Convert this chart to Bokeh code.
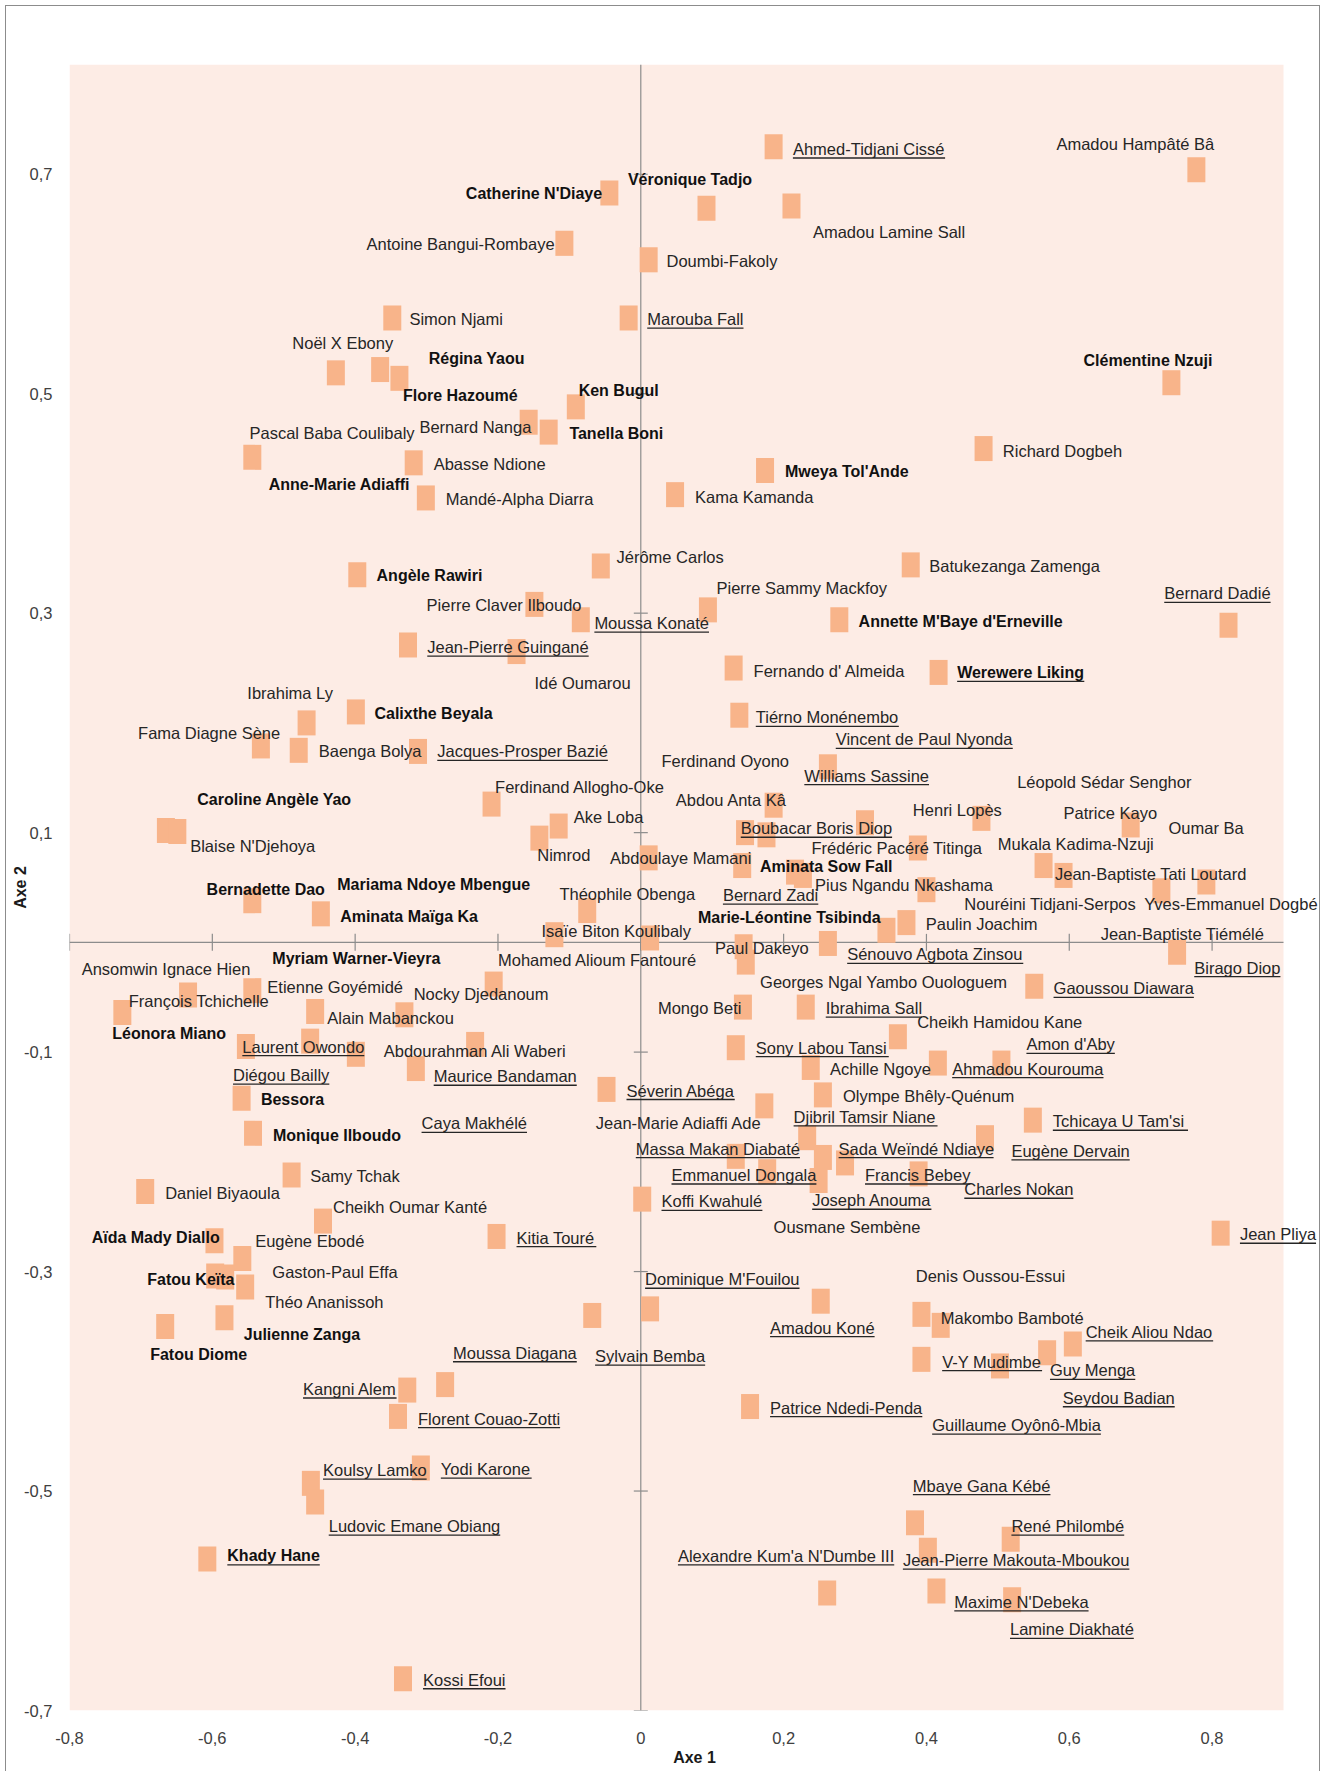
import math
import unicodedata
from bokeh.plotting import figure
from bokeh.models import (ColumnDataSource, LabelSet, FixedTicker, CustomJSTickFormatter,
                          BoxAnnotation, Title)
from bokeh.core.properties import value
from bokeh.embed import file_html
from bokeh.resources import INLINE

# ---------------- data ----------------
point_axe1 = [0.186, 0.778, -0.044, 0.092, 0.211, -0.107, 0.011, -0.348, -0.017, -0.427,
              -0.365, -0.338, 0.743, -0.091, -0.157, -0.129, -0.544, -0.318, 0.480, 0.174,
              -0.301, 0.048, -0.397, -0.056, 0.378, -0.149, -0.084, 0.094, 0.278, 0.823,
              -0.326, -0.174, 0.130, 0.417, -0.399, 0.138, -0.468, -0.532, -0.479, -0.312,
              0.262, -0.209, 0.186, -0.665, -0.649, -0.115, -0.142, 0.314, 0.477, 0.686,
              0.146, 0.176, 0.011, 0.388, 0.142, 0.216, 0.227, 0.564, 0.592, 0.792,
              0.729, 0.400, -0.544, -0.448, -0.075, -0.121, 0.013, 0.344, 0.372, 0.262,
              0.144, 0.147, 0.751, 0.551, -0.206, -0.634, -0.544, -0.726, -0.456, -0.331,
              0.143, 0.231, 0.360, -0.553, -0.463, -0.399, -0.232, -0.315, 0.133, 0.238,
              0.416, 0.505, -0.559, -0.048, 0.255, -0.543, 0.173, 0.233, 0.549, 0.482,
              0.133, 0.177, 0.255, 0.286, 0.249, 0.389, -0.489, -0.694, 0.002, -0.445,
              -0.597, -0.202, 0.812, -0.558, -0.596, -0.582, -0.554, 0.252, 0.013, -0.068,
              -0.583, -0.666, 0.393, 0.420, 0.605, 0.569, 0.393, 0.503, -0.274, -0.327,
              -0.340, 0.153, -0.308, -0.462, -0.456, 0.384, 0.518, 0.402, -0.607, 0.261,
              0.414, 0.520, -0.333]
point_axe2 = [0.725, 0.704, 0.683, 0.669, 0.671, 0.637, 0.622, 0.569, 0.569, 0.519,
              0.522, 0.514, 0.510, 0.488, 0.474, 0.465, 0.442, 0.437, 0.450, 0.430,
              0.405, 0.408, 0.335, 0.343, 0.344, 0.308, 0.294, 0.303, 0.294, 0.289,
              0.271, 0.265, 0.250, 0.246, 0.210, 0.207, 0.200, 0.179, 0.175, 0.174,
              0.160, 0.126, 0.125, 0.102, 0.101, 0.106, 0.095, 0.109, 0.113, 0.107,
              0.100, 0.098, 0.077, 0.086, 0.070, 0.064, 0.061, 0.070, 0.061, 0.055,
              0.047, 0.048, 0.038, 0.026, 0.029, 0.007, 0.004, 0.011, 0.018, -0.001,
              -0.004, -0.018, -0.009, -0.040, -0.038, -0.048, -0.044, -0.064, -0.063, -0.066,
              -0.059, -0.059, -0.086, -0.095, -0.090, -0.102, -0.093, -0.115, -0.096, -0.114,
              -0.110, -0.110, -0.142, -0.134, -0.139, -0.174, -0.149, -0.178, -0.162, -0.178,
              -0.195, -0.209, -0.196, -0.201, -0.217, -0.211, -0.212, -0.227, -0.234, -0.254,
              -0.272, -0.268, -0.265, -0.288, -0.304, -0.305, -0.314, -0.327, -0.334, -0.340,
              -0.342, -0.350, -0.339, -0.349, -0.366, -0.374, -0.380, -0.386, -0.403, -0.408,
              -0.432, -0.423, -0.479, -0.493, -0.510, -0.529, -0.544, -0.554, -0.562, -0.593,
              -0.591, -0.599, -0.671]

authors = [
    "Amadou Hampâté Bâ", "Ahmed-Tidjani Cissé", "Véronique Tadjo", "Catherine N'Diaye",
    "Amadou Lamine Sall", "Antoine Bangui-Rombaye", "Doumbi-Fakoly", "Simon Njami",
    "Marouba Fall", "Noël X Ebony", "Régina Yaou", "Clémentine Nzuji", "Ken Bugul",
    "Flore  Hazoumé", "Bernard Nanga", "Pascal Baba Coulibaly", "Tanella Boni",
    "Richard Dogbeh", "Abasse Ndione", "Mweya Tol'Ande", "Anne-Marie Adiaffi",
    "Kama Kamanda", "Mandé-Alpha Diarra", "Jérôme Carlos", "Batukezanga Zamenga",
    "Angèle Rawiri", "Pierre Sammy Mackfoy", "Bernard Dadié", "Pierre Claver Ilboudo",
    "Annette M'Baye d'Erneville", "Moussa Konaté", "Jean-Pierre Guingané",
    "Fernando d' Almeida", "Werewere Liking", "Idé Oumarou", "Ibrahima Ly",
    "Calixthe Beyala", "Tiérno Monénembo", "Fama Diagne Sène", "Vincent de Paul Nyonda",
    "Baenga Bolya", "Jacques-Prosper Bazié", "Ferdinand Oyono", "Williams Sassine",
    "Léopold Sédar Senghor", "Ferdinand Allogho-Oke", "Abdou Anta Kâ",
    "Caroline Angèle  Yao", "Henri Lopès", "Patrice Kayo", "Ake Loba",
    "Boubacar Boris Diop", "Oumar Ba", "Mukala Kadima-Nzuji", "Blaise N'Djehoya",
    "Frédéric Pacéré Titinga", "Nimrod", "Abdoulaye Mamani", "Aminata Sow Fall",
    "Jean-Baptiste Tati Loutard", "Mariama Ndoye Mbengue", "Pius Ngandu Nkashama",
    "Bernadette Dao", "Théophile Obenga", "Bernard Zadi", "Nouréini Tidjani-Serpos",
    "Yves-Emmanuel Dogbé", "Aminata Maïga Ka", "Marie-Léontine Tsibinda",
    "Paulin Joachim", "Isaïe Biton Koulibaly", "Jean-Baptiste Tiémélé", "Paul Dakeyo",
    "Sénouvo Agbota Zinsou", "Myriam Warner-Vieyra", "Mohamed Alioum Fantouré",
    "Birago Diop", "Ansomwin Ignace Hien", "Georges Ngal Yambo Ouologuem",
    "Etienne Goyémidé", "Gaoussou Diawara", "Nocky Djedanoum", "François Tchichelle",
    "Mongo Beti", "Ibrahima Sall", "Alain Mabanckou", "Cheikh Hamidou Kane",
    "Léonora Miano", "Amon d'Aby", "Laurent Owondo", "Sony Labou Tansi",
    "Abdourahman Ali Waberi", "Achille Ngoye", "Ahmadou Kourouma", "Diégou Bailly",
    "Maurice Bandaman", "Séverin Abéga", "Olympe Bhêly-Quénum", "Bessora",
    "Djibril Tamsir Niane", "Tchicaya U Tam'si", "Caya Makhélé", "Jean-Marie Adiaffi Ade",
    "Monique Ilboudo", "Massa Makan Diabaté", "Sada Weïndé Ndiaye", "Eugène Dervain",
    "Emmanuel Dongala", "Francis Bebey", "Samy Tchak", "Charles Nokan", "Daniel Biyaoula",
    "Joseph Anouma", "Koffi Kwahulé", "Cheikh Oumar Kanté", "Ousmane Sembène",
    "Jean Pliya", "Aïda Mady Diallo", "Kitia Touré", "Eugène Ebodé", "Gaston-Paul Effa",
    "Denis Oussou-Essui", "Fatou Keïta", "Dominique M'Fouilou", "Théo Ananissoh",
    "Makombo Bamboté", "Amadou Koné", "Cheik Aliou Ndao", "Julienne Zanga",
    "Moussa Diagana", "Fatou Diome", "Sylvain Bemba", "V-Y Mudimbe", "Guy Menga",
    "Kangni Alem", "Seydou Badian", "Patrice Ndedi-Penda", "Florent Couao-Zotti",
    "Guillaume Oyônô-Mbia", "Yodi Karone", "Koulsy Lamko", "Mbaye Gana Kébé",
    "René Philombé", "Ludovic Emane Obiang", "Khady Hane", "Alexandre Kum'a N'Dumbe III",
    "Jean-Pierre Makouta-Mboukou", "Maxime N'Debeka", "Lamine Diakhaté", "Kossi Efoui"]

label_x = [0.582, 0.213, -0.018, -0.245, 0.241, -0.384, 0.036, -0.324, 0.009, -0.488,
           -0.297, 0.620, -0.087, -0.333, -0.310, -0.548, -0.100, 0.507, -0.290, 0.202,
           -0.521, 0.076, -0.273, -0.034, 0.404, -0.370, 0.106, 0.733, -0.300, 0.305,
           -0.065, -0.299, 0.158, 0.443, -0.149, -0.551, -0.373, 0.161, -0.704, 0.273,
           -0.451, -0.285, 0.029, 0.229, 0.527, -0.204, 0.049, -0.621, 0.381, 0.592,
           -0.094, 0.140, 0.739, 0.500, -0.631, 0.239, -0.145, -0.043, 0.167, 0.580,
           -0.425, 0.244, -0.608, -0.114, 0.115, 0.453, 0.705, -0.421, 0.080, 0.399,
           -0.139, 0.644, 0.104, 0.289, -0.516, -0.200, 0.775, -0.783, 0.167, -0.523,
           0.578, -0.318, -0.717, 0.024, 0.259, -0.439, 0.387, -0.740, 0.540, -0.558,
           0.161, -0.360, 0.265, 0.436, -0.571, -0.290, -0.020, 0.283, -0.532, 0.214,
           0.577, -0.307, -0.063, -0.515, -0.007, 0.277, 0.519, 0.043, 0.314, -0.463,
           0.453, -0.666, 0.240, 0.029, -0.431, 0.186, 0.839, -0.769, -0.174, -0.540,
           -0.516, 0.385, -0.691, 0.006, -0.526, 0.420, 0.181, 0.623, -0.556, -0.263,
           -0.687, -0.064, 0.422, 0.573, -0.473, 0.591, 0.181, -0.312, 0.408, -0.280,
           -0.445, 0.381, 0.519, -0.437, -0.579, 0.052, 0.367, 0.439, 0.517, -0.305]
label_y = [0.728, 0.723, 0.695, 0.682, 0.647, 0.636, 0.621, 0.568, 0.568, 0.546,
           0.532, 0.530, 0.503, 0.498, 0.470, 0.464, 0.464, 0.448, 0.436, 0.429,
           0.417, 0.406, 0.404, 0.351, 0.343, 0.334, 0.323, 0.318, 0.307, 0.292,
           0.291, 0.269, 0.247, 0.246, 0.236, 0.227, 0.209, 0.205, 0.191, 0.185,
           0.174, 0.174, 0.165, 0.152, 0.146, 0.142, 0.130, 0.130, 0.121, 0.118,
           0.114, 0.104, 0.104, 0.090, 0.088, 0.086, 0.080, 0.077, 0.069, 0.062,
           0.053, 0.052, 0.048, 0.044, 0.043, 0.035, 0.035, 0.024, 0.023, 0.017,
           0.010, 0.008, -0.005, -0.011, -0.015, -0.016, -0.023, -0.024, -0.036, -0.041,
           -0.042, -0.047, -0.053, -0.060, -0.060, -0.069, -0.073, -0.083, -0.093, -0.095,
           -0.096, -0.099, -0.115, -0.115, -0.121, -0.122, -0.135, -0.140, -0.143, -0.159,
           -0.163, -0.165, -0.165, -0.176, -0.188, -0.188, -0.190, -0.212, -0.212, -0.213,
           -0.225, -0.228, -0.235, -0.236, -0.241, -0.259, -0.266, -0.269, -0.269, -0.272,
           -0.300, -0.304, -0.307, -0.307, -0.328, -0.342, -0.351, -0.355, -0.357, -0.374,
           -0.376, -0.377, -0.382, -0.390, -0.407, -0.415, -0.424, -0.434, -0.440, -0.480,
           -0.481, -0.495, -0.532, -0.532, -0.559, -0.559, -0.563, -0.601, -0.626, -0.672]
label_style = ["n", "u", "b", "b", "n", "n", "n", "n", "u", "n",
               "b", "b", "b", "b", "n", "n", "b", "n", "n", "b",
               "b", "n", "n", "n", "n", "b", "n", "u", "n", "b",
               "u", "u", "n", "bu", "n", "n", "b", "u", "n", "u",
               "n", "u", "n", "u", "n", "n", "n", "b", "n", "n",
               "n", "u", "n", "n", "n", "n", "n", "n", "b", "n",
               "b", "n", "b", "n", "u", "n", "n", "b", "b", "n",
               "n", "n", "n", "u", "b", "n", "u", "n", "n", "n",
               "u", "n", "n", "n", "u", "n", "n", "b", "u", "u",
               "u", "n", "n", "u", "u", "u", "u", "n", "b", "u",
               "u", "u", "n", "b", "u", "u", "u", "u", "u", "n",
               "u", "n", "u", "u", "n", "n", "u", "b", "u", "n",
               "n", "n", "b", "u", "n", "n", "u", "u", "b", "u",
               "b", "u", "u", "u", "u", "u", "u", "u", "u", "u",
               "u", "u", "u", "u", "bu", "u", "u", "u", "u", "u"]

x_ticks = [-0.8, -0.6, -0.4, -0.2, 0.0, 0.2, 0.4, 0.6, 0.8]
y_ticks = [-0.7, -0.5, -0.3, -0.1, 0.1, 0.3, 0.5, 0.7]

# ---------------- styling ----------------
FONT = "Liberation Sans"
FS_REG = 16.5
FS_BOLD = 16
PINK = "#FDECE5"
ORANGE = "#F8B48A"
AXIS_GRAY = "#8C8C8C"
TEXT = "#262626"

# plot area (pink) in data units
X0, X1, Y0, Y1 = -0.8, 0.9, -0.7, 0.8
AREA_W, AREA_H = 1214, 1646            # plot area size in px
PX_X = AREA_W / (X1 - X0)
PX_Y = AREA_H / (Y1 - Y0)

FIG_W, FIG_H = 1313, 1765
MB_L, MB_T, MB_B = 63, 58, 61
FRAME_W = FIG_W - MB_L                 # frame extends to the right edge
X_END = X0 + FRAME_W / PX_X

REG = {' ': 278, "'": 191, '-': 333, '.': 278,
       'A': 667, 'B': 667, 'C': 722, 'D': 722, 'E': 667, 'F': 611, 'G': 778, 'H': 722,
       'I': 278, 'J': 500, 'K': 667, 'L': 556, 'M': 833, 'N': 722, 'O': 778, 'P': 667,
       'Q': 778, 'R': 722, 'S': 667, 'T': 611, 'U': 722, 'V': 667, 'W': 944, 'X': 667,
       'Y': 667, 'Z': 611,
       'a': 556, 'b': 556, 'c': 500, 'd': 556, 'e': 556, 'f': 278, 'g': 556, 'h': 556,
       'i': 222, 'j': 222, 'k': 500, 'l': 222, 'm': 833, 'n': 556, 'o': 556, 'p': 556,
       'q': 556, 'r': 333, 's': 500, 't': 278, 'u': 556, 'v': 500, 'w': 722, 'x': 500,
       'y': 500, 'z': 500}
BOLD = {' ': 278, "'": 238, '-': 333, '.': 278,
        'A': 722, 'B': 722, 'C': 722, 'D': 722, 'E': 667, 'F': 611, 'G': 778, 'H': 722,
        'I': 278, 'J': 556, 'K': 722, 'L': 611, 'M': 833, 'N': 722, 'O': 778, 'P': 667,
        'Q': 778, 'R': 722, 'S': 667, 'T': 611, 'U': 722, 'V': 667, 'W': 944, 'X': 667,
        'Y': 667, 'Z': 611,
        'a': 556, 'b': 611, 'c': 556, 'd': 611, 'e': 556, 'f': 333, 'g': 611, 'h': 611,
        'i': 278, 'j': 278, 'k': 556, 'l': 278, 'm': 889, 'n': 611, 'o': 611, 'p': 611,
        'q': 611, 'r': 389, 's': 556, 't': 333, 'u': 611, 'v': 556, 'w': 778, 'x': 556,
        'y': 556, 'z': 500}


def text_width_px(s, bold):
    table = BOLD if bold else REG
    size = FS_BOLD if bold else FS_REG
    tot = 0
    for ch in s:
        base = unicodedata.normalize("NFD", ch)[0]
        tot += table.get(base, 556)
    return tot / 1000.0 * size


# ---------------- figure ----------------
p = figure(width=FIG_W, height=FIG_H, x_range=(X0, X_END), y_range=(Y0, Y1),
           output_backend="svg", toolbar_location=None,
           min_border_left=MB_L, min_border_right=0, min_border_top=MB_T,
           min_border_bottom=MB_B)
p.margin = (6, 0, 0, 6)
p.styles = {"outline": "1.5px solid #8C8C8C"}
p.background_fill_color = "white"
p.border_fill_color = "white"
p.outline_line_color = None
p.xgrid.visible = False
p.ygrid.visible = False

fmt = CustomJSTickFormatter(code="""
if (Math.abs(tick) < 1e-9) { return "0"; }
return tick.toFixed(1).replace(".", ",");
""")
for ax, ticks in ((p.xaxis[0], x_ticks), (p.yaxis[0], y_ticks)):
    ax.ticker = FixedTicker(ticks=ticks)
    ax.formatter = fmt
    ax.axis_line_color = None
    ax.major_tick_line_color = None
    ax.minor_tick_line_color = None
    ax.major_tick_out = 0
    ax.major_tick_in = 0
    ax.minor_tick_out = 0
    ax.minor_tick_in = 0
    ax.major_label_text_font = FONT
    ax.major_label_text_font_size = f"{FS_REG}px"
    ax.major_label_text_color = "#404040"
    ax.axis_label_text_font = FONT
    ax.axis_label_text_font_size = f"{FS_BOLD}px"
    ax.axis_label_text_font_style = "bold"
    ax.axis_label_text_color = "#1a1a1a"

p.yaxis.axis_label = "Axe 2"
p.yaxis.major_label_standoff = 17
p.yaxis.axis_label_standoff = -8
p.xaxis.major_label_standoff = 21

# "Axe 1" centred under the plot area (which is narrower than the frame)
frame_centre_px = FRAME_W / 2
area_centre_px = AREA_W / 2
p.add_layout(Title(text="Axe 1", align="center", offset=area_centre_px - frame_centre_px,
                   standoff=0, text_font=FONT, text_font_size=f"{FS_BOLD}px",
                   text_font_style="bold", text_color="#1a1a1a"), "below")

# plot area background
p.add_layout(BoxAnnotation(left=X0, right=X1, bottom=Y0, top=Y1, fill_color=PINK,
                           fill_alpha=1.0, line_color=None, level="underlay"))

# axes crossing at the origin
p.segment(x0=[X0, 0], y0=[0, Y0], x1=[X1, 0], y1=[0, Y1],
          line_color=AXIS_GRAY, line_width=1.2)
p.scatter(x=x_ticks, y=[0] * len(x_ticks), marker="dash", size=17, angle=math.pi / 2,
          line_color=AXIS_GRAY, line_width=1.2)
p.scatter(x=[0] * len(y_ticks), y=y_ticks, marker="dash", size=14,
          line_color=AXIS_GRAY, line_width=1.2)

# points
p.rect(x=point_axe1, y=point_axe2, width=18, height=25,
       width_units="screen", height_units="screen",
       fill_color=ORANGE, line_color=None)

# underlines
ux0, ux1, uy = [], [], []
for i, s in enumerate(label_style):
    if "u" in s:
        w = text_width_px(authors[i], "b" in s)
        ux0.append(label_x[i])
        ux1.append(label_x[i] + w / PX_X)
        uy.append(label_y[i] - 9 / PX_Y)
p.segment(x0=ux0, y0=uy, x1=ux1, y1=uy, line_color=TEXT, line_width=1.3)


# labels
def subset(kind_bold):
    idx = [i for i, s in enumerate(label_style) if ("b" in s) == kind_bold]
    return ColumnDataSource(dict(x=[label_x[i] for i in idx],
                                 y=[label_y[i] for i in idx],
                                 name=[authors[i] for i in idx]))


for is_bold in (False, True):
    ls = LabelSet(x="x", y="y", text="name", source=subset(is_bold),
                  text_font=value(FONT),
                  text_font_size=value(f"{FS_BOLD if is_bold else FS_REG}px"),
                  text_font_style=value("bold" if is_bold else "normal"),
                  text_color="#111111" if is_bold else TEXT,
                  text_align="left", text_baseline="middle")
    p.add_layout(ls)

open("out.html", "w").write(file_html(p, INLINE))
